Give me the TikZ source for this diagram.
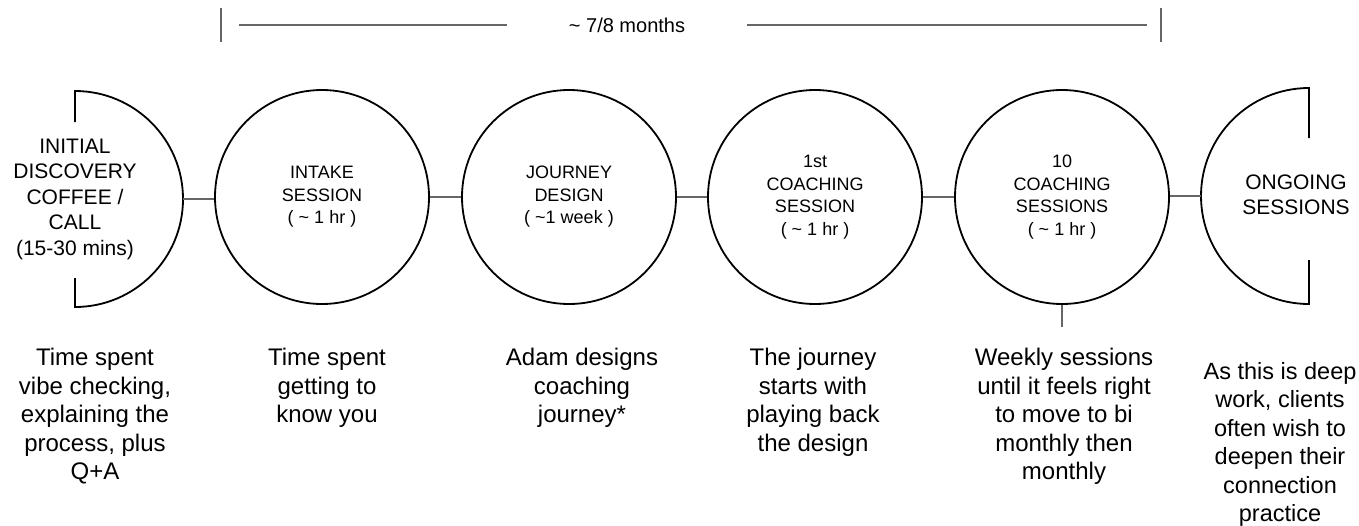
\documentclass[tikz,border=0pt]{standalone}
\usepackage{fontspec}
\setmainfont{Liberation Sans}
\definecolor{linkgray}{HTML}{666666}
\begin{document}
\begin{tikzpicture}[x=1pt,y=-1pt,
  stage/.style={circle, draw=black, line width=1.8pt, minimum size=214pt,
    inner sep=0pt, align=center, font=\fontsize{18}{22.5}\selectfont},
  halfstage/.style={draw=black, line width=1.8pt},
  halflabel/.style={align=center, inner sep=0pt, font=\fontsize{21}{25.5}\selectfont},
  link/.style={draw=linkgray, line width=1.6pt},
  note/.style={align=center, anchor=north, inner sep=0pt,
    font=\fontsize{24}{28.5}\selectfont},
  span/.style={align=center, inner sep=0pt, font=\fontsize{20}{24}\selectfont},
]
\useasboundingbox (0,0) rectangle (1359,525);

% duration bar across the middle stages
\coordinate (tickLtop) at (221,8);
\coordinate (tickLbot) at (221,42);
\coordinate (tickRtop) at (1161,8);
\coordinate (tickRbot) at (1161,42);
\coordinate (barL1) at (239,25);
\coordinate (barL2) at (507,25);
\coordinate (barR1) at (747,25);
\coordinate (barR2) at (1147,25);
\node[span] (months) at (627,25) {\textasciitilde{} 7/8 months};
\draw[link] (tickLtop) -- (tickLbot);
\draw[link] (tickRtop) -- (tickRbot);
\draw[link] (barL1) -- (barL2);
\draw[link] (barR1) -- (barR2);

% opening half circle
\draw[halfstage] (75,122) -- (75,91) arc[start angle=90, end angle=-90, radius=108pt] -- (75,278);
\node[halflabel] (discovery) at (75,199) {INITIAL\\DISCOVERY\\COFFEE /\\CALL\\(15-30 mins)};
\coordinate (discoveryR) at (183,199);

% full stages
\node[stage] (intake) at (322,197) {INTAKE\\SESSION\\( \textasciitilde{} 1 hr )};
\node[stage] (design) at (569,197) {JOURNEY\\DESIGN\\( \textasciitilde1 week )};
\node[stage] (first) at (815,197) {1st\\COACHING\\SESSION\\( \textasciitilde{} 1 hr )};
\node[stage] (ten) at (1062,197) {10\\COACHING\\SESSIONS\\( \textasciitilde{} 1 hr )};

% closing half circle
\draw[halfstage] (1309,138) -- (1309,88) arc[start angle=90, end angle=270, radius=108pt] -- (1309,260);
\node[halflabel] (ongoing) at (1296,195) {ONGOING\\SESSIONS};
\coordinate (ongoingL) at (1201,196);

% connectors
\draw[link] (discoveryR) -- (discoveryR -| intake.west);
\draw[link] (intake) -- (design);
\draw[link] (design) -- (first);
\draw[link] (first) -- (ten);
\draw[link] (ten.east |- ongoingL) -- (ongoingL);
\coordinate (tenStub) at (1062,327);
\draw[link] (ten.south) -- (tenStub);

% descriptions
\node[note] (n1) at (95,348) {Time spent\\vibe checking,\\explaining the\\process, plus\\Q+A};
\node[note] (n2) at (327,348) {Time spent\\getting to\\know you};
\node[note] (n3) at (582,348) {Adam designs\\coaching\\journey*};
\node[note] (n4) at (813,348) {The journey\\starts with\\playing back\\the design};
\node[note] (n5) at (1064,348) {Weekly sessions\\until it feels right\\to move to bi\\monthly then\\monthly};
\node[note, font=\fontsize{23.5}{28.5}\selectfont] (n6) at (1280,362) {As this is deep\\work, clients\\often wish to\\deepen their\\connection\\practice};
\end{tikzpicture}
\end{document}
